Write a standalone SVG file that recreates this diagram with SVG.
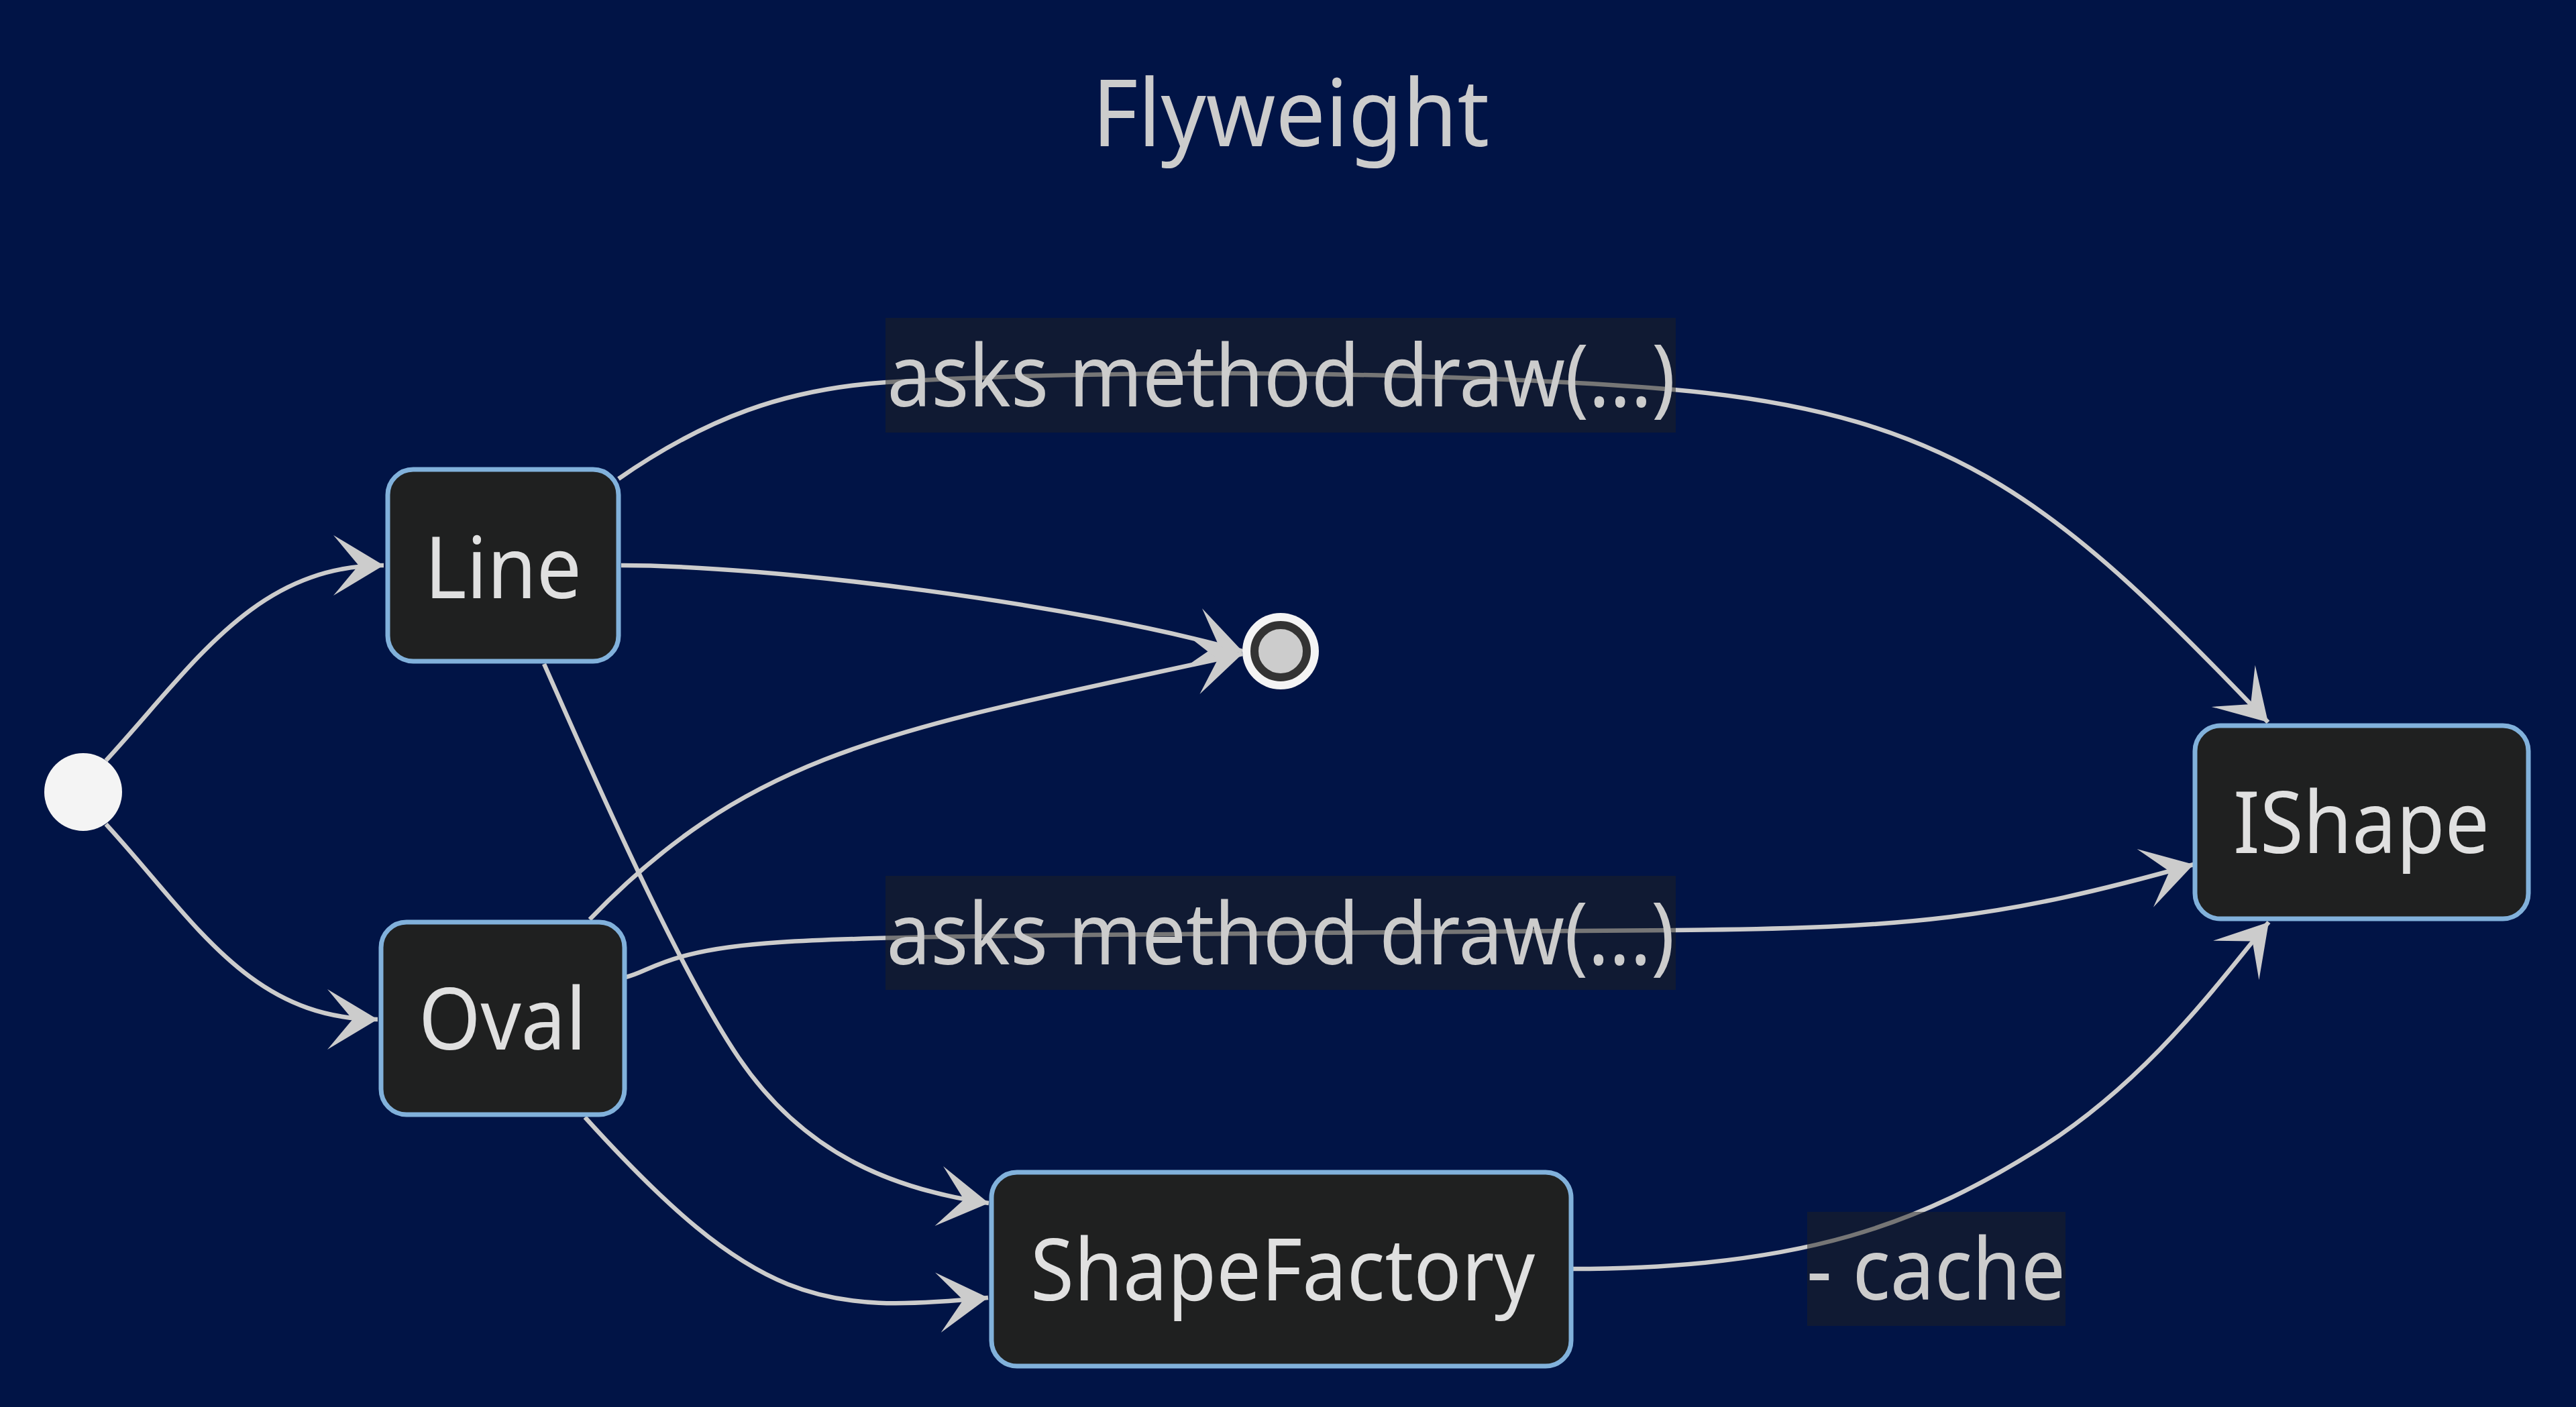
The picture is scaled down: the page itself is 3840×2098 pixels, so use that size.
<svg xmlns="http://www.w3.org/2000/svg" width="3840" height="2098" viewBox="0 0 3840 2098">
<style>
.bg{fill:#011446}
.node rect{fill:#1f2020;stroke:#81b1db;stroke-width:7}
.node text{font-family:"Noto Sans","Open Sans",sans-serif;font-size:128px;fill:#e0e0e0;text-anchor:middle}
.edge{fill:none;stroke:#cccccc;stroke-width:6.5;marker-end:url(#barb)}
.lbl rect{fill:#1f2020;opacity:0.5}
.lbl text{font-family:"Noto Sans","Open Sans",sans-serif;font-size:128px;fill:#cccccc;text-anchor:middle}
.title{font-family:"Noto Sans","Open Sans",sans-serif;font-size:139px;fill:#cccccc;text-anchor:middle}
</style>
<defs>
<marker id="barb" markerUnits="userSpaceOnUse" viewBox="-80 -50 85 100" markerWidth="85" markerHeight="100" refX="0" refY="0" orient="auto" overflow="visible">
<path d="M0,0 L-75,45 L-37.5,0 L-75,-45 Z" fill="#cccccc"/>
</marker>
</defs>
<rect class="bg" x="0" y="0" width="3840" height="2098"/>
<text class="title" x="1924" y="218" textLength="592" lengthAdjust="spacingAndGlyphs">Flyweight</text>
<g id="connectors">
<path class="edge" d="M158,1134 C290,990 380,843 572,843"/>
<path class="edge" d="M158,1229 C290,1373 372,1520 563,1520"/>
<path class="edge" d="M922,714 C1053,623 1171,580 1321,570 C1455.8,561 1704,555 1900,557 C2095.7,558.8 2350,568 2495,581 C2920,619 3076,758 3381,1077"/>
<path class="edge" d="M926,843 C1150,843 1600,900 1852,971"/>
<path class="edge" d="M811,990 C851.8,1081.3 1000,1428 1101,1577 C1202,1726 1340,1775 1474,1794"/>
<path class="edge" d="M879,1371 C1129,1111 1352,1085 1852,975"/>
<path class="edge" d="M933,1457 C971,1448.3 992.5,1416 1162,1405 C1331.5,1394 1727.3,1394 1950,1391 C2172.7,1388 2359.2,1389 2498,1387 C2848,1384 2982,1370 3270,1289"/>
<path class="edge" d="M872,1666 C1126.6,1947.2 1224,1959 1473,1935"/>
<path class="edge" d="M2344,1892 C2694,1892 2868,1820 3038,1714 C3208,1608 3317,1451 3382,1375"/>
</g>
<g id="edge-labels">
<g class="lbl" id="label-line-ishape"><rect x="1320" y="474" width="1178" height="171"/><text x="1910" y="606" textLength="1175" lengthAdjust="spacingAndGlyphs">asks method draw(...)</text></g>
<g class="lbl" id="label-oval-ishape"><rect x="1320" y="1306" width="1178" height="170"/><text x="1909" y="1438" textLength="1175" lengthAdjust="spacingAndGlyphs">asks method draw(...)</text></g>
<g class="lbl" id="label-factory-ishape"><rect x="2694" y="1807" width="385" height="170"/><text x="2886" y="1938" textLength="386" lengthAdjust="spacingAndGlyphs">- cache</text></g>
</g>
<g id="start"><circle cx="124" cy="1181" r="58" fill="#f4f4f4"/></g>
<g id="end"><circle cx="1909" cy="971" r="57" fill="#f4f4f4"/><circle cx="1909" cy="971" r="39" fill="#cccccc" stroke="#333333" stroke-width="12"/></g>
<g class="node" id="Line"><rect x="578" y="700" width="344" height="286" rx="38" ry="38"/><text x="750" y="892" textLength="234" lengthAdjust="spacingAndGlyphs">Line</text></g>
<g class="node" id="Oval"><rect x="568" y="1375" width="363" height="287" rx="38" ry="38"/><text x="749" y="1565" textLength="250" lengthAdjust="spacingAndGlyphs">Oval</text></g>
<g class="node" id="ShapeFactory"><rect x="1478" y="1748" width="864" height="289" rx="38" ry="38"/><text x="1912" y="1939" textLength="752" lengthAdjust="spacingAndGlyphs">ShapeFactory</text></g>
<g class="node" id="IShape"><rect x="3272" y="1082" width="497" height="288" rx="38" ry="38"/><text x="3520" y="1272" textLength="382" lengthAdjust="spacingAndGlyphs">IShape</text></g>
</svg>
